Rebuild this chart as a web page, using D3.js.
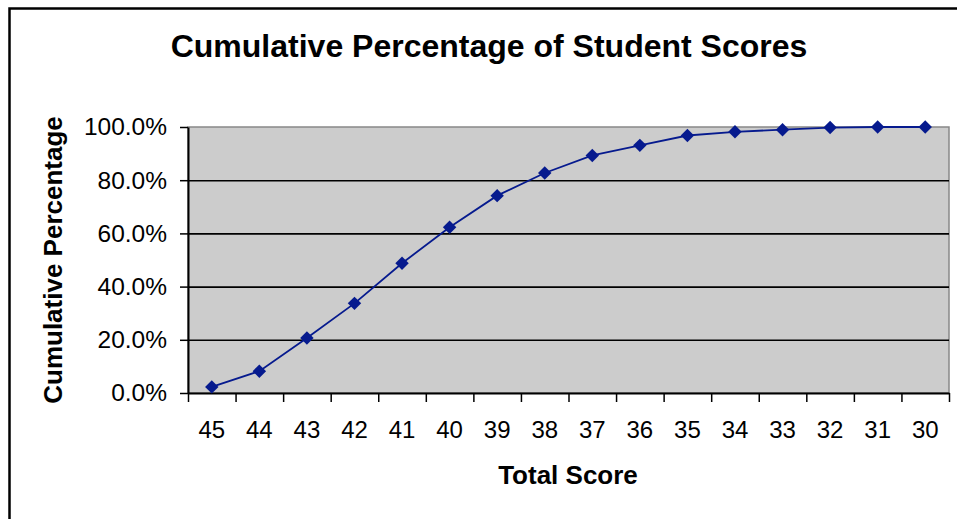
<!DOCTYPE html>
<html>
<head>
<meta charset="utf-8">
<script src="https://cdn.jsdelivr.net/npm/d3@7"></script>
<style>
  html, body { margin: 0; padding: 0; background: #fff; }
  svg { display: block; }
  text { font-family: "Liberation Sans", Arial, sans-serif; fill: #000; }
</style>
</head>
<body>
<svg id="chart" width="957" height="519"></svg>
<script>
const chartTitle = "Cumulative Percentage of Student Scores";
const xTitle = "Total Score";
const yTitle = "Cumulative Percentage";
const scores = ["45","44","43","42","41","40","39","38","37","36","35","34","33","32","31","30"];
const cumulative = [0.023, 0.082, 0.207, 0.337, 0.488, 0.623, 0.742, 0.827, 0.893, 0.931, 0.968, 0.982, 0.990, 0.998, 1.0, 1.0];
const yTicks = [0, 0.2, 0.4, 0.6, 0.8, 1.0];

const svg = d3.select("#chart");
const plot = { left: 188, right: 949, top: 127, bottom: 393 };

// outer frame (extends beyond the right/bottom edges as in the reference)
svg.append("rect")
  .attr("x", 9.5).attr("y", 8.5)
  .attr("width", 1200).attr("height", 1200)
  .attr("fill", "none").attr("stroke", "#000").attr("stroke-width", 2.5);

const x = d3.scaleBand().domain(scores).range([plot.left, plot.right]).padding(0);
const xi = d3.scaleLinear().domain([0, scores.length]).range([plot.left, plot.right]);
const y = d3.scaleLinear().domain([0, 1]).range([plot.bottom, plot.top]);

// plot background
svg.append("rect")
  .attr("x", plot.left).attr("y", plot.top)
  .attr("width", plot.right - plot.left).attr("height", plot.bottom - plot.top)
  .attr("fill", "#CCCCCC").attr("stroke", "#888888").attr("stroke-width", 1.5);

// gridlines
const grid = svg.append("g").attr("transform", `translate(${plot.left},0)`)
  .call(d3.axisLeft(y).tickValues(yTicks.filter(v => v > 0 && v < 1))
    .tickSize(-(plot.right - plot.left)).tickFormat(""));
grid.select(".domain").remove();
grid.selectAll("line").attr("stroke", "#000").attr("stroke-width", 1.6);

// y axis
const yAxis = svg.append("g").attr("transform", `translate(${plot.left},0)`)
  .call(d3.axisLeft(y).tickValues(yTicks).tickFormat(d3.format(".1%"))
    .tickSize(8).tickPadding(13).tickSizeOuter(0));
yAxis.select(".domain").attr("stroke", "#000").attr("stroke-width", 2);
yAxis.selectAll(".tick line").attr("stroke", "#000").attr("stroke-width", 1.5);
yAxis.selectAll("text").style("font-size", "24.5px").attr("font-family", "Liberation Sans, Arial, sans-serif").attr("fill", "#000");

// x axis: ticks at category boundaries
const xTickAxis = svg.append("g").attr("transform", `translate(0,${plot.bottom})`)
  .call(d3.axisBottom(xi).tickValues(d3.range(0, scores.length + 1)).tickFormat("")
    .tickSize(9).tickSizeOuter(0));
xTickAxis.select(".domain").attr("stroke", "#000").attr("stroke-width", 2);
xTickAxis.selectAll(".tick line").attr("stroke", "#000").attr("stroke-width", 1.5);

// x axis labels at category centres
const xLabelAxis = svg.append("g").attr("transform", `translate(0,${plot.bottom})`)
  .call(d3.axisBottom(x).tickSize(0).tickPadding(28));
xLabelAxis.select(".domain").remove();
xLabelAxis.selectAll("text").style("font-size", "24px").attr("font-family", "Liberation Sans, Arial, sans-serif").attr("fill", "#000");

// line
const line = d3.line().x((d, i) => x(scores[i]) + x.bandwidth() / 2).y(d => y(d));
svg.append("path").datum(cumulative)
  .attr("d", line).attr("fill", "none")
  .attr("stroke", "#061A8E").attr("stroke-width", 1.8);

// diamond markers
const diamond = d3.symbol().type(d3.symbolDiamond2).size(115);
svg.selectAll(".marker").data(cumulative).enter().append("path")
  .attr("class", "marker")
  .attr("d", diamond)
  .attr("transform", (d, i) => `translate(${x(scores[i]) + x.bandwidth() / 2},${y(d)})`)
  .attr("fill", "#061A8E");

// titles
svg.append("text").attr("x", 489).attr("y", 57).attr("text-anchor", "middle")
  .style("font-size", "32px").style("font-weight", "bold").text(chartTitle);

svg.append("text").attr("x", 568).attr("y", 484).attr("text-anchor", "middle")
  .style("font-size", "26px").style("font-weight", "bold").text(xTitle);

svg.append("text").attr("transform", `translate(62,${(plot.top + plot.bottom) / 2}) rotate(-90)`)
  .attr("text-anchor", "middle")
  .style("font-size", "26px").style("font-weight", "bold").text(yTitle);
</script>
</body>
</html>
